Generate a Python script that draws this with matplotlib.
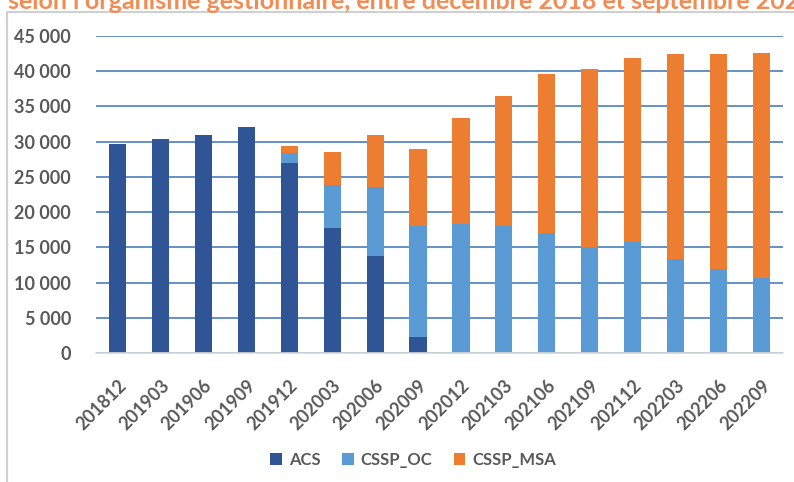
import numpy as np
import matplotlib
matplotlib.use("Agg")
import matplotlib.pyplot as plt
from matplotlib.patches import Rectangle
from matplotlib.ticker import FuncFormatter

# Data
periods = ["201812", "201903", "201906", "201909", "201912", "202003", "202006", "202009",
           "202012", "202103", "202106", "202109", "202112", "202203", "202206", "202209"]
acs = [29700, 30300, 31000, 32100, 27000, 17800, 13800, 2300,
       0, 0, 0, 0, 0, 0, 0, 0]
cssp_oc = [0, 0, 0, 0, 1400, 6000, 9800, 15700,
           18300, 18000, 17000, 15100, 15800, 13300, 11900, 10600]
cssp_msa = [0, 0, 0, 0, 1000, 4700, 7400, 10900,
            15100, 18400, 22600, 25200, 26000, 29100, 30500, 32000]

# Style
C_ACS, C_OC, C_MSA = "#2F5597", "#5B9BD5", "#ED7D31"
GREY_TXT = "#595959"
plt.rcParams['font.family'] = ['Lato', 'DejaVu Sans']

W, H = 794, 482
fig = plt.figure(figsize=(W / 100, H / 100), dpi=100)
ax = fig.add_axes([96 / W, 1 - 353.3 / H, (783 - 96) / W, (353.3 - 35.7) / H])

x = np.arange(len(periods))
acs = np.array(acs)
cssp_oc = np.array(cssp_oc)
cssp_msa = np.array(cssp_msa)
bw = 0.40

ax.bar(x, acs, bw, color=C_ACS, label="ACS")
ax.bar(x, cssp_oc, bw, bottom=acs, color=C_OC, label="CSSP_OC")
ax.bar(x, cssp_msa, bw, bottom=acs + cssp_oc, color=C_MSA, label="CSSP_MSA")

ax.set_xlim(-0.5, len(periods) - 0.5)
ax.set_ylim(0, 45000)
ax.set_yticks(np.arange(0, 45001, 5000))
ax.yaxis.set_major_formatter(FuncFormatter(lambda v, p: f"{int(v):,}".replace(",", " ")))
ax.yaxis.grid(True, color="#4A7EBB", linewidth=1.2)
ax.set_axisbelow(True)

for s in ["top", "right", "left"]:
    ax.spines[s].set_visible(False)
ax.spines["bottom"].set_color("#D9D9D9")
ax.spines["bottom"].set_linewidth(1.2)

ax.set_xticks(x)
ax.set_xticklabels(periods, rotation=45, ha="right", rotation_mode="anchor")
ax.tick_params(axis="x", length=0, pad=17, labelsize=13, labelcolor=GREY_TXT)
ax.tick_params(axis="y", length=0, pad=18, labelsize=13, labelcolor=GREY_TXT)
for lab in ax.get_xticklabels() + ax.get_yticklabels():
    lab.set_fontweight("bold")

leg = fig.legend(loc="center", bbox_to_anchor=(413 / W, 1 - 460 / H), ncol=3, frameon=False,
                 handlelength=0.7, handleheight=0.7, handletextpad=0.4, columnspacing=1.3,
                 prop={"size": 12, "weight": "bold"})
for t in leg.get_texts():
    t.set_color(GREY_TXT)

# chart frame (partially outside the picture)
fig.patches.append(Rectangle((7 / W, -0.2), 1.2, 1.2 - 12 / H, transform=fig.transFigure,
                             fill=False, edgecolor="#D0D0D0", linewidth=1.5))

# title, cut off at the top of the picture
fig.text(8 / W, 1 - 9 / H, "selon l\u2019organisme gestionnaire, entre d\u00e9cembre 2018 et septembre 2022",
         color="#F28C55", fontsize=18, fontweight="bold", ha="left", va="baseline")

fig.savefig("out.png", dpi=100)
